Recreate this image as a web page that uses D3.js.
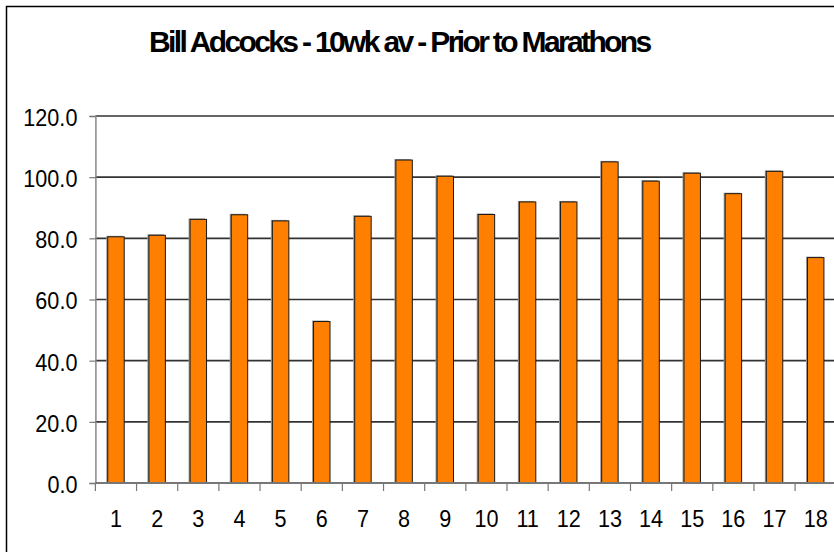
<!DOCTYPE html>
<html>
<head>
<meta charset="utf-8">
<script src="https://cdn.jsdelivr.net/npm/d3@7"></script>
<style>
  html, body { margin: 0; padding: 0; background: #fff; }
  svg { display: block; }
  text { font-family: "Liberation Sans", Arial, sans-serif; fill: #000; }
</style>
</head>
<body>
<svg id="chart" width="834" height="552"></svg>
<script>
// Marathon numbers and the 10-week average mileage before each one
const categories = ["1","2","3","4","5","6","7","8","9","10","11","12","13","14","15","16","17","18"];
const averages = [80.5, 81.0, 86.2, 87.7, 85.7, 52.8, 87.2, 105.6, 100.3, 87.8, 91.9, 91.9, 105.0, 98.7, 101.3, 94.6, 101.9, 73.7];
const yTicks = [0, 20, 40, 60, 80, 100, 120];
const titleText = "Bill Adcocks - 10wk av - Prior to Marathons";

const svg = d3.select("#chart");

// Plot frame; the chart runs a little past the right edge of the view
const plot = { left: 95.4, top: 116, bottom: 483, step: 41.16 };
plot.right = plot.left + plot.step * categories.length;

// Outer chart border
svg.append("rect")
  .attr("x", 6.5).attr("y", 6.5)
  .attr("width", 900).attr("height", 600)
  .attr("fill", "none").attr("stroke", "#000").attr("stroke-width", 1.5);

const x = d3.scaleBand()
  .domain(categories)
  .range([plot.left, plot.right])
  .paddingInner(0.6)
  .paddingOuter(0.3);

const xCat = d3.scaleBand()
  .domain(categories)
  .range([plot.left, plot.right])
  .padding(0);

const y = d3.scaleLinear()
  .domain([0, 120])
  .range([plot.bottom, plot.top]);

// Horizontal gridlines
svg.append("g")
  .selectAll("line")
  .data(yTicks.filter(d => d > 0))
  .join("line")
  .attr("x1", plot.left).attr("x2", plot.right)
  .attr("y1", d => y(d)).attr("y2", d => y(d))
  .attr("stroke", "#333").attr("stroke-width", 1.7);

// Bars: soft grey shadow edge then the orange body
const bars = svg.append("g");
bars.selectAll("rect.shade")
  .data(averages)
  .join("rect")
  .attr("class", "shade")
  .attr("x", (d, i) => x(categories[i]) - 1.5)
  .attr("y", d => y(d) - 1)
  .attr("width", x.bandwidth())
  .attr("height", d => plot.bottom - y(d) + 1)
  .attr("fill", "#9a9a9a");
bars.selectAll("rect.bar")
  .data(averages)
  .join("rect")
  .attr("class", "bar")
  .attr("x", (d, i) => x(categories[i]))
  .attr("y", d => y(d))
  .attr("width", x.bandwidth())
  .attr("height", d => plot.bottom - y(d))
  .attr("fill", "#ff8000")
  .attr("stroke", "#1a1a1a").attr("stroke-width", 1);

// Y axis
const yAxis = svg.append("g")
  .attr("transform", `translate(${plot.left},0)`)
  .call(d3.axisLeft(y).tickValues(yTicks).tickSize(6).tickFormat(d3.format(".1f")));
yAxis.select(".domain").attr("stroke", "#888").attr("stroke-width", 1.5);
yAxis.selectAll(".tick line").attr("stroke", "#777").attr("stroke-width", 1.2);
yAxis.selectAll(".tick text")
  .attr("x", null).attr("dy", null)
  .attr("font-size", 24)
  .attr("fill", "#000")
  .attr("text-anchor", "end")
  .attr("dominant-baseline", "central")
  .attr("transform", "translate(-18,1) scale(0.9,1)");

// X axis with ticks on category boundaries
const xAxisG = svg.append("g").attr("transform", `translate(0,${plot.bottom})`);
xAxisG.append("line")
  .attr("x1", plot.left).attr("x2", plot.right)
  .attr("stroke", "#777").attr("stroke-width", 2);
xAxisG.selectAll("line.tick")
  .data(categories.concat([""]))
  .join("line")
  .attr("class", "tick")
  .attr("x1", (d, i) => plot.left + i * xCat.step())
  .attr("x2", (d, i) => plot.left + i * xCat.step())
  .attr("y1", 0).attr("y2", 8)
  .attr("stroke", "#777").attr("stroke-width", 1.2);
xAxisG.selectAll("text")
  .data(categories)
  .join("text")
  .attr("transform", d => `translate(${xCat(d) + xCat.bandwidth() / 2},44) scale(0.9,1)`)
  .attr("text-anchor", "middle")
  .attr("font-size", 24)
  .text(d => d);

// Title: tight tracking so the bold line spans the set width
const title = svg.append("text")
  .attr("x", 149).attr("y", 52)
  .attr("font-size", 30)
  .attr("font-weight", "bold")
  .text(titleText);
const naturalWidth = title.node().getComputedTextLength();
const tracking = (503 - naturalWidth) / (titleText.length - 1);
title.attr("letter-spacing", tracking.toFixed(2));
</script>
</body>
</html>
